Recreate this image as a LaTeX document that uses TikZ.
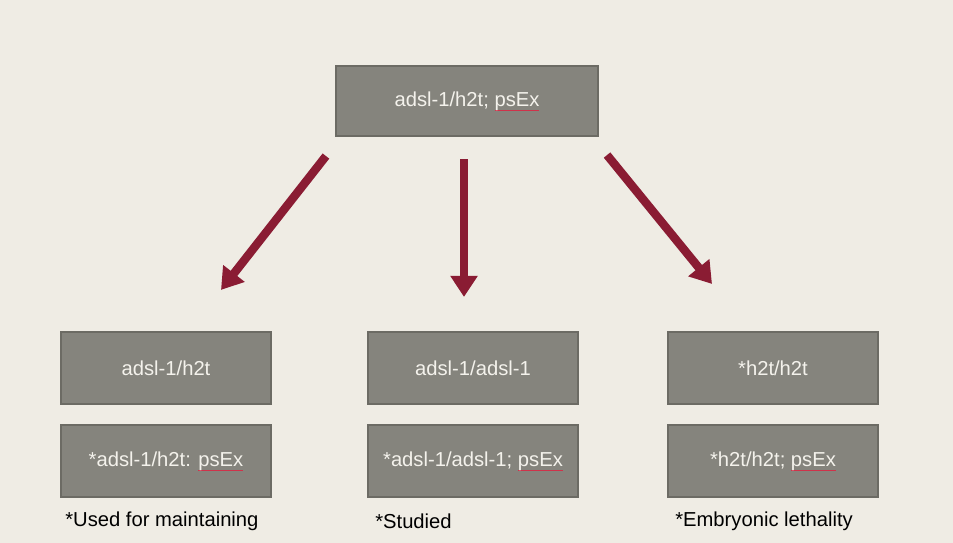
\documentclass[tikz,border=0pt]{standalone}
\usepackage{fontspec}
\setmainfont{Liberation Sans}
\usetikzlibrary{arrows.meta}
\definecolor{paper}{HTML}{EFECE4}
\definecolor{boxfill}{HTML}{85847D}
\definecolor{boxedge}{HTML}{6C6B64}
\definecolor{boxtext}{HTML}{F4F2EC}
\definecolor{arrowred}{HTML}{8A1C33}
\definecolor{squiggle}{HTML}{D0324A}
\newcommand{\spellmark}[1]{\setbox0\hbox{#1}\rlap{\color{squiggle}\rule[-2.6pt]{\wd0}{0.5pt}}#1}

\begin{document}
\begin{tikzpicture}[
    geno/.style={rectangle, fill=boxfill, draw=boxedge, line width=1.2pt, text=boxtext,
      minimum width=4.2cm, minimum height=1.44cm, font=\fontsize{11.5}{14}\selectfont},
    note/.style={anchor=west, inner sep=0pt, font=\fontsize{11.5}{14}\selectfont},
    cross/.style={draw=arrowred, line width=4.8pt, -{Triangle[width=0.52cm,length=0.42cm]}}]
      \fill[paper] (0,0) rectangle (19.06,-10.86);
      \useasboundingbox (0,0) rectangle (19.06,-10.86);

      \node [geno, minimum width=5.24cm, minimum height=1.4cm] (parent) at (9.34,-2.02) {adsl-1/h2t; \spellmark{psEx}};
      \node [geno, below of=parent, yshift=-4.34cm, xshift=0.12cm] (hom) {adsl-1/adsl-1};
      \node [geno, left of=hom, xshift=-5.14cm] (het) {adsl-1/h2t};
      \node [geno, right of=hom, xshift=5cm] (mut) {*h2t/h2t};
      \node [geno, below of=het, yshift=-0.86cm] (hetps) {*adsl-1/h2t: \spellmark{psEx}};
      \node [geno, below of=hom, yshift=-0.86cm] (homps) {*adsl-1/adsl-1; \spellmark{psEx}};
      \node [geno, below of=mut, yshift=-0.86cm] (mutps) {*h2t/h2t; \spellmark{psEx}};

      \node [note] (usenote) at ([xshift=0.1cm,yshift=-1.2cm]hetps.west) {*Used for maintaining};
      \node [note] (studnote) at ([xshift=0.16cm,yshift=-1.2cm]homps.west) {*Studied};
      \node [note] (lethnote) at ([xshift=0.16cm,yshift=-1.2cm]mutps.west) {*Embryonic lethality};

      \coordinate (tipL) at ([xshift=1.1cm,yshift=0.82cm]het.north);
      \coordinate (tipM) at ([xshift=-0.18cm,yshift=0.68cm]hom.north);
      \coordinate (tipR) at ([xshift=-1.22cm,yshift=0.94cm]mut.north);

      \draw[cross] ([xshift=-0.18cm,yshift=-0.38cm]parent.south west) -- (tipL);
      \draw[cross] ([xshift=-0.06cm,yshift=-0.44cm]parent.south) -- (tipM);
      \draw[cross] ([xshift=0.16cm,yshift=-0.36cm]parent.south east) -- (tipR);
    \end{tikzpicture}
\end{document}
